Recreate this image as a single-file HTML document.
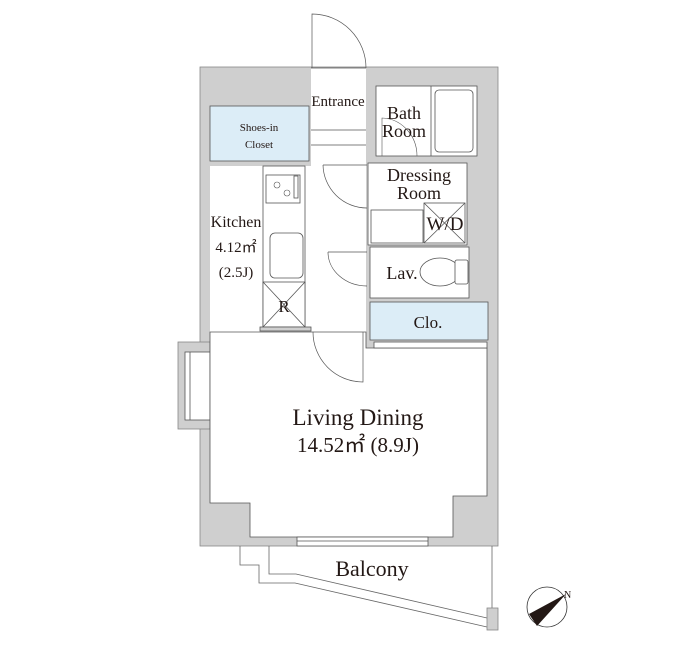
<!DOCTYPE html>
<html><head><meta charset="utf-8"><style>
html,body{margin:0;padding:0;background:#fff;}
svg{display:block;}
text{font-family:"Liberation Serif",serif;fill:#231815;}
</style></head><body>
<svg width="700" height="650" viewBox="0 0 700 650" xmlns="http://www.w3.org/2000/svg">
<g stroke="#555" stroke-width="0.8">
<rect x="200" y="67" width="298" height="479" fill="#cfcfcf" stroke="#888"/>
<rect x="178" y="342" width="32" height="87" fill="#cfcfcf" stroke="#888"/>
<rect x="185" y="352" width="25" height="68" fill="#fff"/>
<line x1="190" y1="352" x2="190" y2="420"/>
<rect x="311" y="68" width="55" height="282" fill="#fff" stroke="none"/>
<line x1="311" y1="68" x2="366" y2="68"/>
<line x1="311" y1="130" x2="366" y2="130"/>
<line x1="311" y1="145" x2="366" y2="145"/>
<rect x="210" y="106" width="99" height="55" fill="#dcedf7"/>
<rect x="210" y="166" width="101" height="180" fill="#fff" stroke="none"/>
<rect x="263" y="166" width="42" height="161" fill="#fff"/>
<rect x="266" y="175" width="34" height="28" fill="#fff"/>
<rect x="294" y="176" width="4" height="22" fill="#fff"/>
<g stroke-width="0.6"><circle cx="277" cy="185" r="3" fill="none"/><circle cx="287" cy="193" r="3" fill="none"/></g>
<rect x="270" y="233" width="33" height="45" rx="5" fill="#fff"/>
<rect x="263" y="282" width="42" height="45" fill="#fff"/>
<line x1="263" y1="282" x2="305" y2="327"/><line x1="305" y1="282" x2="263" y2="327"/>
<rect x="260" y="327" width="51" height="4" fill="#cfcfcf"/>
<rect x="376" y="86" width="101" height="70" fill="#fff"/>
<line x1="431" y1="86" x2="431" y2="156"/>
<rect x="435" y="90" width="38" height="62" rx="4" fill="#fff"/>
<path d="M382,156 L382,118 A36,38 0 0 1 417,156" fill="none" stroke-width="0.6"/>
<rect x="368" y="163" width="99" height="82" fill="#fff"/>
<rect x="371" y="210" width="52" height="33" fill="#fff"/>
<rect x="424" y="203" width="41" height="40" fill="#fff"/>
<line x1="424" y1="203" x2="465" y2="243"/><line x1="465" y1="203" x2="424" y2="243"/>
<rect x="370" y="247" width="99" height="51" fill="#fff"/>
<ellipse cx="440" cy="272" rx="20" ry="14" fill="#fff"/>
<rect x="455" y="260" width="13" height="24" rx="2" fill="#fff"/>
<rect x="370" y="302" width="118" height="38" fill="#dcedf7"/>
<path d="M210,332 L366,332 L366,348 L487,348 L487,496 L453,496 L453,537 L250,537 L250,503 L210,503 Z" fill="#fff"/>
<rect x="374" y="342" width="113" height="6" fill="#fff"/>
<rect x="297" y="537" width="131" height="9" fill="#fff"/>
<line x1="297" y1="541" x2="428" y2="541"/>
<g fill="none" stroke-width="0.7">
<path d="M312,68 L312,14 A54,54 0 0 1 366,68"/>
<path d="M323,165 L367,165 M323,165 A44,44 0 0 0 367,208"/>
<path d="M328,252 L367,252 M328,252 A39,34 0 0 0 367,286"/>
<path d="M313,332 A50,50 0 0 0 363,382 L363,332"/>
</g>
<g fill="none" stroke="#666">
<polyline points="240,546 240,565 259,565 259,583 295,583 487,627"/>
<polyline points="269,546 269,574 296,574 487,618"/>
<line x1="492" y1="546" x2="492" y2="608"/>
</g>
<rect x="487" y="608" width="11" height="22" fill="#cfcfcf" stroke="#888"/>
<circle cx="547" cy="607" r="20" fill="#fff" stroke="#333"/>
<polygon points="529,614 566,594 537,626" fill="#231815" stroke="none"/>
</g>
<text x="564" y="598" font-size="10">N</text>
<text x="338" y="106" font-size="15" text-anchor="middle">Entrance</text>
<text x="259" y="131" font-size="11" text-anchor="middle">Shoes-in</text>
<text x="259" y="148" font-size="11" text-anchor="middle">Closet</text>
<text x="236" y="227" font-size="16" text-anchor="middle">Kitchen</text>
<text x="236" y="252" font-size="15" text-anchor="middle">4.12㎡</text>
<text x="236" y="277" font-size="15" text-anchor="middle">(2.5J)</text>
<text x="284" y="312" font-size="17" text-anchor="middle">R</text>
<text x="404" y="119" font-size="18" text-anchor="middle">Bath</text>
<text x="404" y="137" font-size="18" text-anchor="middle">Room</text>
<text x="419" y="181" font-size="18" text-anchor="middle">Dressing</text>
<text x="419" y="199" font-size="18" text-anchor="middle">Room</text>
<text x="445" y="230" font-size="19" text-anchor="middle">W/D</text>
<text x="402" y="279" font-size="18" text-anchor="middle">Lav.</text>
<text x="428" y="328" font-size="17" text-anchor="middle">Clo.</text>
<text x="358" y="425" font-size="23" text-anchor="middle">Living Dining</text>
<text x="358" y="452" font-size="21" text-anchor="middle">14.52㎡ (8.9J)</text>
<text x="372" y="576" font-size="22" text-anchor="middle">Balcony</text>
</svg>
</body></html>
